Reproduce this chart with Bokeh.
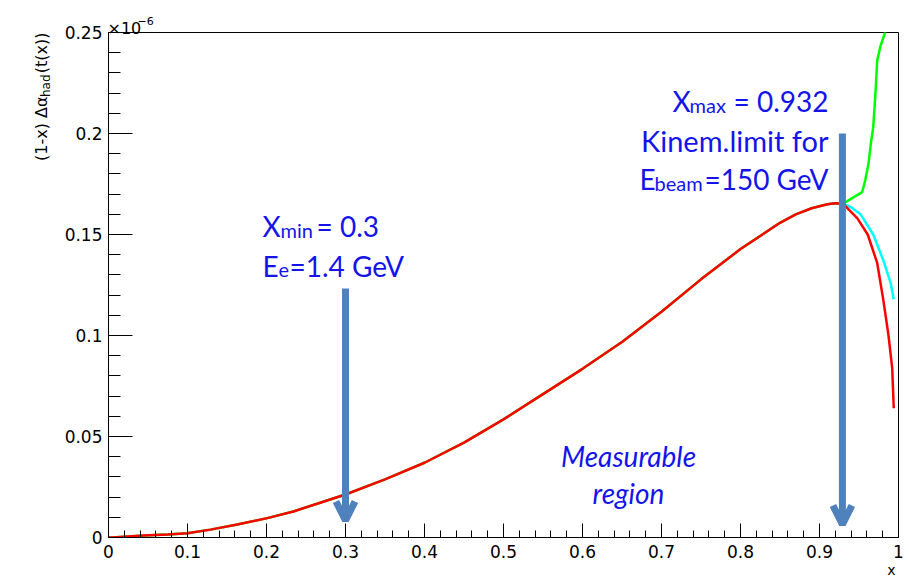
from bokeh.plotting import figure
from bokeh.models import (Range1d, FixedTicker, CustomJSTickFormatter, Label,
                          Arrow, OpenHead)
from bokeh.embed import file_html
from bokeh.resources import INLINE
import math

# ---------------- data ----------------
x_main = [0.0, 0.005, 0.044, 0.075, 0.100, 0.129, 0.163, 0.201, 0.234, 0.264,
          0.30, 0.35, 0.40, 0.45, 0.50, 0.55, 0.60, 0.65, 0.70, 0.75, 0.80,
          0.85, 0.87, 0.89, 0.91, 0.92, 0.93]
y_main = [0.0, 0.0, 0.0010, 0.0015, 0.0021, 0.0039, 0.0064, 0.0096, 0.0129,
          0.0167, 0.0213, 0.0288, 0.0370, 0.0470, 0.0585, 0.0710, 0.0835,
          0.0968, 0.1118, 0.1278, 0.1428, 0.1558, 0.1600, 0.1630, 0.1650,
          0.1655, 0.1652]

x_red_tail = [0.930, 0.948, 0.961, 0.973, 0.981, 0.987, 0.992, 0.994]
y_red_tail = [0.1652, 0.158, 0.150, 0.136, 0.117, 0.101, 0.084, 0.064]

x_cyan_tail = [0.930, 0.940, 0.952, 0.968, 0.981, 0.990, 0.994]
y_cyan_tail = [0.1652, 0.1635, 0.160, 0.150, 0.137, 0.126, 0.118]

x_green_tail = [0.930, 0.933, 0.954, 0.958, 0.962, 0.965, 0.968, 0.971,
                0.973, 0.977, 0.983, 0.986]
y_green_tail = [0.1652, 0.166, 0.171, 0.177, 0.185, 0.195, 0.203, 0.221,
                0.236, 0.243, 0.250, 0.256]

x_ticks = [0.0, 0.1, 0.2, 0.3, 0.4, 0.5, 0.6, 0.7, 0.8, 0.9, 1.0]
y_ticks = [0.0, 0.05, 0.10, 0.15, 0.20, 0.25]
x_minor = [i / 50 for i in range(51)]
y_minor = [i / 100 for i in range(26)]

x_min_mark = 0.30
x_max_mark = 0.929

# ---------------- geometry ----------------
W, H = 909, 577
L, R, T, B = 108, 11, 32, 40
FW, FH = W - L - R, H - T - B
X0, X1, Y0, Y1 = 0.0, 1.0, 0.0, 0.25


def dx(px):
    return X0 + (px - L) / FW * (X1 - X0)


def dy(py):
    return Y0 + (T + FH - py) / FH * (Y1 - Y0)


p = figure(width=W, height=H, x_range=Range1d(X0, X1), y_range=Range1d(Y0, Y1),
           min_border_left=L, min_border_right=R, min_border_top=T,
           min_border_bottom=B,
           output_backend="svg", toolbar_location=None)
p.xgrid.visible = False
p.ygrid.visible = False
p.outline_line_color = "black"
p.outline_line_width = 1
p.background_fill_color = "white"
p.border_fill_color = "white"

fmt = CustomJSTickFormatter(code="return String(Math.round(tick*100)/100);")

xa = p.xaxis[0]
xa.ticker = FixedTicker(ticks=x_ticks, minor_ticks=x_minor)
xa.formatter = fmt
xa.major_tick_in = 14
xa.major_tick_out = 0
xa.minor_tick_in = 7
xa.minor_tick_out = 0
xa.major_label_standoff = 7
ya = p.yaxis[0]
ya.ticker = FixedTicker(ticks=y_ticks, minor_ticks=y_minor)
ya.formatter = fmt
ya.major_tick_in = 24
ya.major_tick_out = 0
ya.minor_tick_in = 12
ya.minor_tick_out = 0
ya.major_label_standoff = 6
for ax in (xa, ya):
    ax.axis_line_color = "black"
    ax.major_tick_line_color = "black"
    ax.minor_tick_line_color = "black"
    ax.major_label_text_font = "DejaVu Sans"
    ax.major_label_text_font_size = "17px"
    ax.major_label_text_color = "black"

# ---------------- curves ----------------
p.line(x_main + x_green_tail, y_main + y_green_tail, line_color="#00ff00",
       line_width=2.5)
p.line(x_cyan_tail, y_cyan_tail, line_color="#00ffff", line_width=2.5)
p.line(x_main + x_red_tail, y_main + y_red_tail, line_color="#ff0000",
       line_width=2.5)

# ---------------- arrows ----------------
ARROW_C = "#4f81bd"
for xm, ytop, ytip in ((x_min_mark, dy(288), dy(520)),
                       (x_max_mark, dy(133), dy(524))):
    p.add_layout(Arrow(end=OpenHead(size=19, line_width=7, line_color=ARROW_C),
                       x_start=xm, y_start=ytop, x_end=xm, y_end=ytip,
                       line_width=7, line_color=ARROW_C))

# ---------------- texts ----------------
BLUE = "#1414ea"
FONT = "Lato"


def lab(text, px, py, size, align="left", font=FONT, color=BLUE,
        style="normal", angle=0.0, place="center"):
    lbl = Label(x=dx(px), y=dy(py), text=text, text_font=font,
                text_font_size=f"{size}px", text_color=color,
                text_align=align, text_baseline="alphabetic",
                text_font_style=style, angle=angle)
    p.add_layout(lbl, place)


# X_min = 0.3 / E_e = 1.4 GeV
lab("X", 262, 225, 28)
lab("min", 280, 229, 20)
lab("= 0.3", 316, 225, 28)
lab("E", 262, 265, 28)
lab("e", 278, 269, 20)
lab("=1.4 GeV", 289, 265, 28)

# X_max = 0.932 / Kinem.limit for / E_beam = 150 GeV
lab("X", 672, 100, 28)
lab("max", 689, 104, 20)
lab("= 0.932", 828, 100, 28, align="right")
lab("Kinem.limit for", 828, 140, 29, align="right")
lab("E", 639, 178, 28)
lab("beam", 654, 182, 20)
lab("=150 GeV", 828, 178, 28, align="right")

# Measurable region
lab("Measurable", 628, 455, 28, align="center", style="italic")
lab("region", 628, 492, 28, align="center", style="italic")

# axis decorations (ROOT style), placed in the side panels so they are
# not clipped to the frame
BLACK = "black"
lab("\u00d710", 107, 28, 16, font="DejaVu Sans", color=BLACK, place="above")
lab("\u22126", 137, 20, 11, font="DejaVu Sans", color=BLACK, place="above")
lab("x", 895, 569, 14, align="right", font="DejaVu Sans", color=BLACK,
    place="left")

# rotated y-axis title: (1-x) Δα_had(t(x))
rot = math.pi / 2
lab("(t(x))", 41, 32, 16, align="right", font="DejaVu Sans", color=BLACK,
    angle=rot, place="left")
lab("had", 45, 74, 12, align="right", font="DejaVu Sans", color=BLACK,
    angle=rot, place="left")
lab("(1-x) \u0394\u03b1", 41, 96, 16, align="right", font="DejaVu Sans",
    color=BLACK, angle=rot, place="left")

open("out.html", "w").write(file_html(p, INLINE))
